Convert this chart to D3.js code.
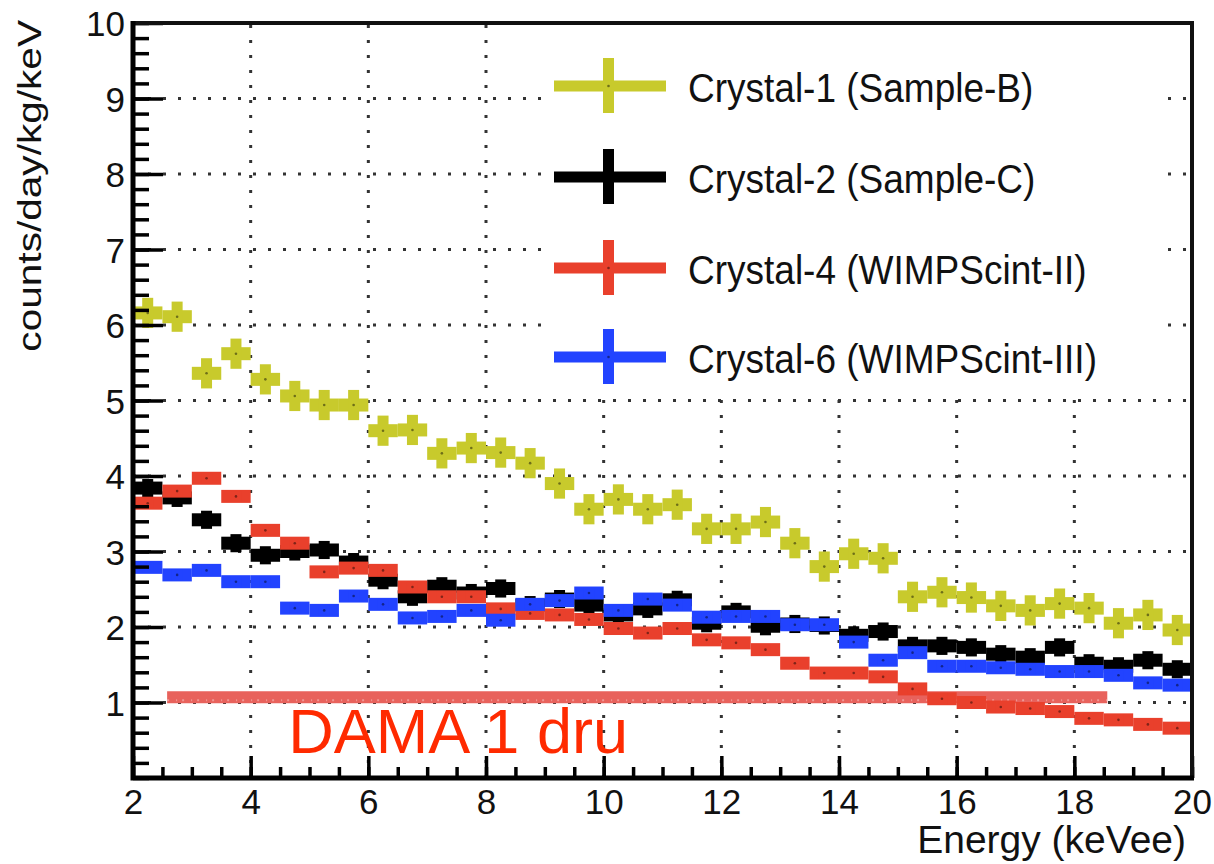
<!DOCTYPE html>
<html>
<head>
<meta charset="utf-8">
<script src="https://cdn.jsdelivr.net/npm/d3@7"></script>
<style>
  html, body { margin: 0; padding: 0; background: #fff; }
  svg { display: block; font-family: "Liberation Sans", Arial, Helvetica, sans-serif; }
</style>
</head>
<body>
<svg id="chart" width="1214" height="864"></svg>
<script>
// bin centres (keVee), 0.5 keV bins
var energy = [2.25, 2.75, 3.25, 3.75, 4.25, 4.75, 5.25, 5.75, 6.25, 6.75, 7.25, 7.75,
              8.25, 8.75, 9.25, 9.75, 10.25, 10.75, 11.25, 11.75, 12.25, 12.75, 13.25, 13.75,
              14.25, 14.75, 15.25, 15.75, 16.25, 16.75, 17.25, 17.75, 18.25, 18.75, 19.25, 19.75];

var crystal1 = [6.16, 6.11, 5.36, 5.62, 5.28, 5.06, 4.94, 4.94, 4.60, 4.61, 4.30, 4.37,
                4.31, 4.17, 3.90, 3.56, 3.69, 3.56, 3.62, 3.30, 3.30, 3.39, 3.11, 2.80,
                2.97, 2.91, 2.40, 2.46, 2.39, 2.28, 2.22, 2.31, 2.25, 2.05, 2.16, 1.96];
var crystal2 = [3.84, 3.71, 3.42, 3.11, 2.95, 3.00, 3.02, 2.86, 2.62, 2.40, 2.54, 2.45,
                2.51, 2.29, 2.37, 2.29, 2.16, 2.24, 2.36, 2.05, 2.20, 2.01, 2.04, 2.02,
                1.89, 1.94, 1.75, 1.75, 1.73, 1.64, 1.60, 1.73, 1.52, 1.48, 1.56, 1.44];
var crystal4 = [3.64, 3.80, 3.97, 3.73, 3.28, 3.11, 2.73, 2.78, 2.75, 2.53, 2.40, 2.40,
                2.24, 2.18, 2.16, 2.10, 1.98, 1.92, 1.98, 1.83, 1.79, 1.70, 1.52, 1.39,
                1.39, 1.34, 1.18, 1.05, 1.00, 0.94, 0.92, 0.88, 0.79, 0.77, 0.71, 0.66];
var crystal6 = [2.79, 2.69, 2.75, 2.60, 2.60, 2.25, 2.22, 2.41, 2.30, 2.12, 2.14, 2.22,
                2.09, 2.30, 2.35, 2.45, 2.22, 2.37, 2.29, 2.13, 2.14, 2.14, 2.03, 2.03,
                1.80, 1.56, 1.66, 1.48, 1.48, 1.46, 1.44, 1.41, 1.41, 1.36, 1.26, 1.23];

var seriesNames = ["Crystal-1 (Sample-B)", "Crystal-2 (Sample-C)", "Crystal-4 (WIMPScint-II)", "Crystal-6 (WIMPScint-III)"];
var seriesErrors = [0.2, 0.12, 0.07, 0.07];
var binHalfWidth = 0.25;

// DAMA 1 dru reference band
var damaX = [2.58, 18.56];
var damaY = 1.07;

var xTicks = [2, 4, 6, 8, 10, 12, 14, 16, 18, 20];
var yTicks = [1, 2, 3, 4, 5, 6, 7, 8, 9, 10];

(function () {
var svg = d3.select("#chart"),
    pL = 133, pR = 1192, pT = 23, pB = 778;

var x = d3.scaleLinear().domain([2, 20]).range([pL, pR]);
var y = d3.scaleLinear().domain([0, 10]).range([pB, pT]);

var color = d3.scaleOrdinal(seriesNames, ["#c8ca2c", "#000000", "#e9402c", "#2243ff"]);

// dotted grid
var grid = svg.append("g")
    .attr("stroke", "#333")
    .attr("stroke-width", 3)
    .attr("stroke-dasharray", "3,12");
grid.selectAll(".gx").data(xTicks.slice(1, -1)).enter().append("line")
    .attr("x1", function (d) { return x(d); }).attr("x2", function (d) { return x(d); })
    .attr("y1", pB).attr("y2", pT);
grid.selectAll(".gy").data(yTicks.slice(0, -1)).enter().append("line")
    .attr("y1", function (d) { return y(d); }).attr("y2", function (d) { return y(d); })
    .attr("x1", pL).attr("x2", pR);

// legend box (white, no border) hides the grid behind it
svg.append("rect")
    .attr("x", 545).attr("y", pT + 2).attr("width", 620).attr("height", 363)
    .attr("fill", "#fff");

// DAMA band
svg.append("line")
    .attr("x1", x(damaX[0])).attr("x2", x(damaX[1]))
    .attr("y1", y(damaY)).attr("y2", y(damaY))
    .attr("stroke", "#e8625c")
    .attr("stroke-width", 12);
svg.append("line")
    .attr("x1", x(damaX[0])).attr("x2", x(damaX[1]))
    .attr("y1", y(damaY) + 3).attr("y2", y(damaY) + 3)
    .attr("stroke", "#fff")
    .attr("stroke-opacity", 0.35)
    .attr("stroke-width", 2)
    .attr("stroke-dasharray", "2,7,1,5");

svg.append("text")
    .attr("x", x(4.64)).attr("y", y(0.33))
    .attr("fill", "#ff2a00")
    .attr("font-size", 63)
    .text("DAMA 1 dru");

// data points with error bars
var allSeries = [crystal1, crystal2, crystal4, crystal6];
allSeries.forEach(function (vals, si) {
    var g = svg.append("g").attr("fill", color(seriesNames[si]));
    var pts = energy.map(function (e, i) { return { e: e, v: vals[i] }; });
    var err = seriesErrors[si];
    g.selectAll(".h").data(pts).enter().append("rect")
        .attr("x", function (d) { return x(d.e - binHalfWidth); })
        .attr("width", function (d) { return x(d.e + binHalfWidth) - x(d.e - binHalfWidth); })
        .attr("y", function (d) { return y(d.v) - 6.5; })
        .attr("height", 13);
    g.selectAll(".v").data(pts).enter().append("rect")
        .attr("x", function (d) { return x(d.e) - 5.5; })
        .attr("width", 11)
        .attr("y", function (d) { return y(d.v + err); })
        .attr("height", function (d) { return y(d.v - err) - y(d.v + err); });
    g.selectAll(".c").data(pts).enter().append("circle")
        .attr("cx", function (d) { return x(d.e); })
        .attr("cy", function (d) { return y(d.v); })
        .attr("r", 1.3)
        .attr("fill", "rgba(0,0,0,0.45)");
});

// axes (ROOT style: ticks inward)
var xAxis = svg.append("g").attr("transform", "translate(0," + pB + ")")
    .call(d3.axisBottom(x).tickValues(xTicks).tickSize(-22).tickFormat(d3.format("d")));
var xMinor = svg.append("g").attr("transform", "translate(0," + pB + ")")
    .call(d3.axisBottom(x).tickValues(d3.range(2, 20.01, 0.5)).tickSize(-11).tickFormat(""));
var yAxis = svg.append("g").attr("transform", "translate(" + pL + ",0)")
    .call(d3.axisLeft(y).tickValues(yTicks).tickSize(-30).tickFormat(d3.format("d")));
var yMinor = svg.append("g").attr("transform", "translate(" + pL + ",0)")
    .call(d3.axisLeft(y).tickValues(d3.range(0, 10.01, 0.2)).tickSize(-16).tickFormat(""));

[xAxis, xMinor, yAxis, yMinor].forEach(function (a) {
    a.select(".domain").remove();
    a.selectAll(".tick line").attr("stroke", "#000").attr("stroke-width", 3.5);
    a.selectAll("text").attr("fill", "#111").attr("font-size", 35)
        .attr("font-family", "Liberation Sans, Arial, sans-serif");
});
xAxis.selectAll("text").attr("y", 11).attr("dy", "0.71em");
yAxis.selectAll("text").attr("x", -8).attr("text-anchor", "end").attr("dy", "0.36em");

// frame
svg.append("path")
    .attr("d", "M" + pL + "," + pT + "H" + pR + "V" + pB)
    .attr("fill", "none").attr("stroke", "#111").attr("stroke-width", 4);
svg.append("path")
    .attr("d", "M" + pL + "," + (pT - 2) + "V" + pB + "H" + (pR + 2))
    .attr("fill", "none").attr("stroke", "#000").attr("stroke-width", 5);

// axis titles
svg.append("text")
    .attr("x", 1186).attr("y", 853)
    .attr("text-anchor", "end")
    .attr("font-size", 39)
    .attr("fill", "#111")
    .text("Energy (keVee)");
svg.append("text")
    .attr("transform", "translate(41,20) rotate(-90) scale(1.23,1)")
    .attr("text-anchor", "end")
    .attr("font-size", 33)
    .attr("fill", "#111")
    .text("counts/day/kg/keV");

// legend
var legendRows = [86, 177, 268, 357];
var legend = svg.append("g");
seriesNames.forEach(function (name, i) {
    var row = legend.append("g").attr("transform", "translate(0," + legendRows[i] + ")");
    row.append("rect").attr("x", 554).attr("y", -5.5).attr("width", 112).attr("height", 11)
        .attr("fill", color(name));
    row.append("rect").attr("x", 603).attr("y", -28).attr("width", 11).attr("height", 55)
        .attr("fill", color(name));
    row.append("circle").attr("cx", 608.5).attr("cy", 0).attr("r", 1.3)
        .attr("fill", "rgba(0,0,0,0.45)");
    row.append("text")
        .attr("transform", "translate(688,16) scale(1,1.08)")
        .attr("font-size", 37)
        .attr("fill", "#111")
        .text(name);
});
})();
</script>
</body>
</html>
